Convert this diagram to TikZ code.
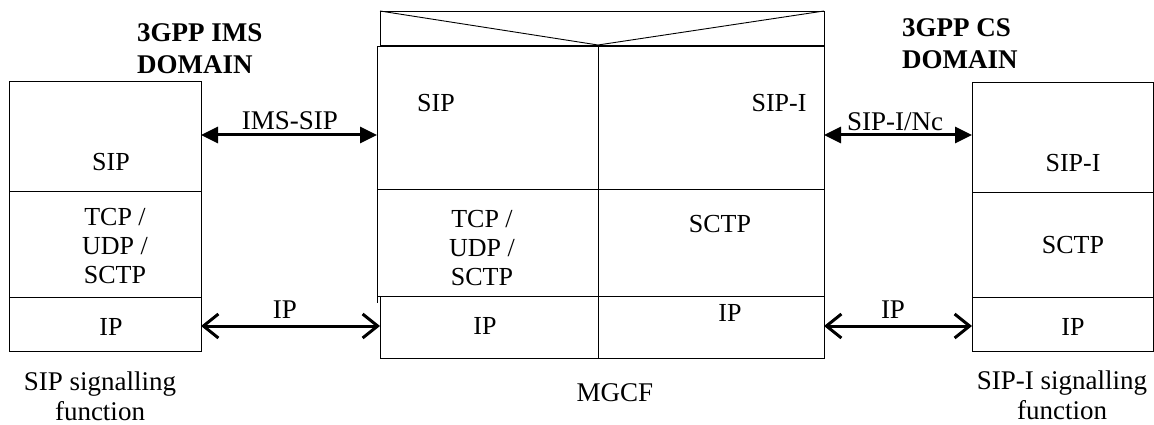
\documentclass[tikz,border=0pt]{standalone}
\usepackage{fontspec}
\setmainfont{Liberation Serif}
\usetikzlibrary{arrows.meta}
\begin{document}
\begin{tikzpicture}[x=1pt,y=-1pt,
  cell/.style={draw, line width=0.9pt, anchor=north west, inner sep=0pt, outer sep=0pt},
  txt/.style={font=\fontsize{26}{29}\selectfont, align=center, inner sep=0pt},
  big/.style={font=\fontsize{27}{30}\selectfont, align=center, inner sep=0pt},
  head/.style={font=\fontsize{27}{32}\selectfont\bfseries, align=left, inner sep=0pt, anchor=west},
  sig/.style={line width=3pt, {Triangle[length=17pt,width=16pt]}-{Triangle[length=17pt,width=16pt]}},
  ipa/.style={line width=3pt, {Straight Barb[length=15pt,width=24pt]}-{Straight Barb[length=15pt,width=24pt]}}]
\useasboundingbox (0,0) rectangle (1154,425);
% left stack
\node[cell, minimum width=192pt, minimum height=110pt] (lsip) at (9,81) {};
\node[cell, minimum width=192pt, minimum height=106pt] (ltcp) at (9,191) {};
\node[cell, minimum width=192pt, minimum height=54pt] (lip) at (9,297) {};
% MGCF
\node[cell, minimum width=444pt, minimum height=34pt] (mtop) at (380,11) {};
\draw[line width=0.9pt] (mtop.north west) -- (598,45) -- (mtop.north east);
\node[cell, minimum width=221pt, minimum height=143pt] (msip) at (377,46) {};
\node[cell, minimum width=221pt, minimum height=107pt] (mtcp) at (377,189) {};
\node[cell, minimum width=218pt, minimum height=62pt] (mip) at (380,296) {};
\node[cell, minimum width=226pt, minimum height=143pt] (msipi) at (598,46) {};
\node[cell, minimum width=226pt, minimum height=107pt] (msctp) at (598,189) {};
\node[cell, minimum width=226pt, minimum height=62pt] (mip2) at (598,296) {};
\draw[line width=0.9pt] (mtcp.south west) -- ++(0,7);
% right stack
\node[cell, minimum width=181pt, minimum height=110pt] (rsip) at (972,82) {};
\node[cell, minimum width=181pt, minimum height=105pt] (rsctp) at (972,192) {};
\node[cell, minimum width=181pt, minimum height=54pt] (rip) at (972,297) {};
% texts
\node[head] (hims) at (137,49) {3GPP IMS\\DOMAIN};
\node[head] (hcs) at (902,44) {3GPP CS\\DOMAIN};
\node[txt] (tlsip) at (111,162) {SIP};
\node[txt] (tltcp) at (115,246) {TCP /\\UDP /\\SCTP};
\node[txt] (tlip) at (111,327) {IP};
\node[txt] (tmsip) at (436,103) {SIP};
\node[txt] (tmsipi) at (779,103) {SIP-I};
\node[txt] (tmtcp) at (482,248) {TCP /\\UDP /\\SCTP};
\node[txt] (tmsctp) at (720,224) {SCTP};
\node[txt] (tmip) at (485,326) {IP};
\node[txt] (tmip2) at (730,313) {IP};
\node[txt] (trsip) at (1073,163) {SIP-I};
\node[txt] (trsctp) at (1073,245) {SCTP};
\node[txt] (trip) at (1073,327) {IP};
\node[big] (lcap) at (100,396) {SIP signalling\\function};
\node[big] (mcap) at (615,393) {MGCF};
\node[big] (rcap) at (1062,395) {SIP-I signalling\\function};
% connectors
\draw[sig] (lsip.east |- 0,135) -- (msip.west |- 0,135);
\draw[sig] (msipi.east |- 0,135) -- (rsip.west |- 0,135);
\draw[ipa] (lip.east |- 0,326) -- (mip.west |- 0,326);
\draw[ipa] (mip2.east |- 0,326) -- (rip.west |- 0,326);
\node[big] (limssip) at (290,121) {IMS-SIP};
\node[big] (lsipinc) at (895,122) {SIP-I/Nc};
\node[big] (lipl) at (285,310) {IP};
\node[big] (lipr) at (893,310) {IP};
\end{tikzpicture}
\end{document}
